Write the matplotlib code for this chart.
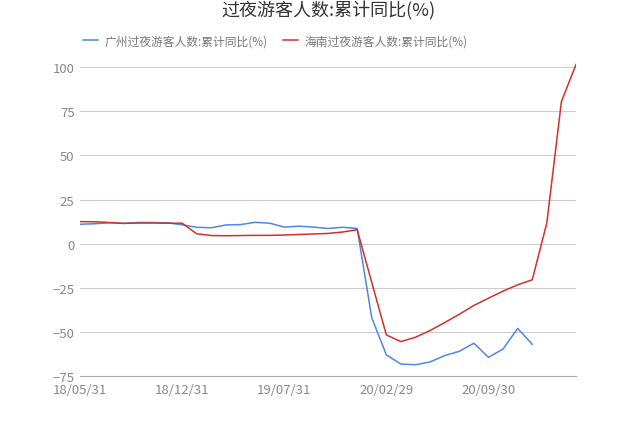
import matplotlib
matplotlib.use("Agg")
import matplotlib.pyplot as plt
import pandas as pd

plt.rcParams['font.family'] = ['Noto Sans CJK SC', 'DejaVu Sans']
plt.rcParams['axes.unicode_minus'] = True

dates = pd.date_range("2018-05-31", "2021-03-31", freq="ME")
guangzhou = [11.0, 11.3, 11.8, 11.5, 12.0, 12.0, 11.8, 10.7, 9.3, 9.0, 10.6, 10.8,
             12.1, 11.6, 9.4, 9.9, 9.4, 8.6, 9.3, 8.6, -42.0, -63.0, -68.2, -68.6,
             -67.0, -63.4, -61.0, -56.4, -64.4, -59.7, -48.0, -57.0]
hainan = [12.5, 12.4, 12.0, 11.5, 11.7, 11.7, 11.6, 11.6, 5.6, 4.6, 4.5, 4.6,
          4.7, 4.7, 4.9, 5.2, 5.5, 5.8, 6.6, 7.9, -22.0, -51.7, -55.5, -53.0,
          -49.2, -44.7, -40.0, -35.0, -30.9, -26.9, -23.3, -20.5, 11.7, 80.5, 101.5]
xtick_labels = ["18/05/31", "18/12/31", "19/07/31", "20/02/29", "20/09/30"]
yticks = [-75, -50, -25, 0, 25, 50, 75, 100]

title = "过夜游客人数:累计同比(%)"
names = ["广州过夜游客人数:累计同比(%)", "海南过夜游客人数:累计同比(%)"]
colors = ["#5087e0", "#d3302c"]

fig = plt.figure(figsize=(6.4, 4.27), dpi=100)
ax = fig.add_axes([0.125, 0.117, 0.775, 0.744])

x_all = list(range(len(hainan)))
ax.plot(x_all[:len(guangzhou)], guangzhou, color=colors[0], lw=1.1, label=names[0])
ax.plot(x_all, hainan, color=colors[1], lw=1.1, label=names[1])

ax.set_xlim(0, len(hainan) - 1)
ax.set_ylim(-75, 105)
ax.set_yticks(yticks)
ax.set_yticklabels([str(v) if v >= 0 else "\u2212" + str(-v) for v in yticks])
date_strs = [d.strftime("%y/%m/%d") for d in dates]
xt = [date_strs.index(lbl) for lbl in xtick_labels]
ax.set_xticks(xt)
ax.set_xticklabels(xtick_labels)

for y in yticks:
    if y == -75:
        continue
    ax.axhline(y, color="#cccccc", lw=0.8, zorder=0)
for s in ["top", "right", "left"]:
    ax.spines[s].set_visible(False)
ax.spines["bottom"].set_color("#aaaaaa")
ax.spines["bottom"].set_linewidth(0.8)
ax.tick_params(axis="both", length=0, labelsize=9.5, colors="#888888")
ax.tick_params(axis="x", pad=5)
ax.tick_params(axis="y", pad=4)

fig.text(0.513, 0.975, title, ha="center", va="center", fontsize=13, color="#333333")
leg = fig.legend(loc="center left", bbox_to_anchor=(0.13, 0.902), ncol=2, frameon=False,
                 fontsize=8.5, handlelength=1.27, handletextpad=0.5, columnspacing=1.35,
                 labelcolor="#777777", borderpad=0, borderaxespad=0)

fig.savefig("out.png", dpi=100)
